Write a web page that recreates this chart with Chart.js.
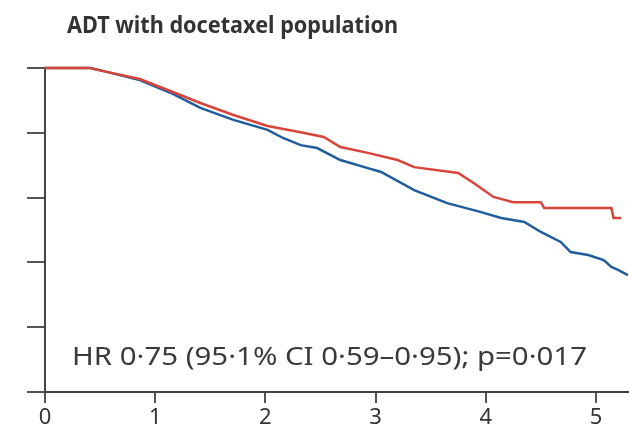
<!DOCTYPE html>
<html>
<head>
<meta charset="utf-8">
<script src="https://cdn.jsdelivr.net/npm/chart.js@4.4.1/dist/chart.umd.min.js"></script>
<style>
    html, body { margin: 0; padding: 0; background: #fff; }
    #caixa-grafico { width: 629px; height: 433px; }
</style>
</head>
<body>
<div id="caixa-grafico"><canvas id="sobrevida"></canvas></div>
<script>
// Dados (anos, proporção sem evento)
const tempoVermelho = [0, 0.41, 0.56, 0.86, 1.16, 1.41, 1.71, 2.02, 2.32, 2.53, 2.68, 2.93, 3.2, 3.35, 3.75, 3.89, 4.07, 4.25, 4.5, 4.53, 5.14, 5.16, 5.23];
const valoresVermelho = [1.0, 1.0, 0.988, 0.966, 0.926, 0.892, 0.855, 0.821, 0.802, 0.787, 0.756, 0.738, 0.716, 0.694, 0.676, 0.645, 0.602, 0.586, 0.586, 0.568, 0.568, 0.537, 0.537];

const tempoAzul = [0, 0.41, 0.56, 0.86, 1.16, 1.41, 1.71, 2.02, 2.16, 2.32, 2.47, 2.68, 2.93, 3.05, 3.35, 3.65, 3.95, 4.14, 4.35, 4.5, 4.68, 4.77, 4.93, 5.07, 5.14, 5.2, 5.29];
const valoresAzul = [1.0, 1.0, 0.988, 0.963, 0.92, 0.877, 0.84, 0.809, 0.784, 0.762, 0.753, 0.716, 0.691, 0.679, 0.623, 0.583, 0.556, 0.537, 0.525, 0.494, 0.463, 0.432, 0.423, 0.407, 0.386, 0.377, 0.361];

const ticksX = [0, 1, 2, 3, 4, 5];
const ticksY = [0, 0.2, 0.4, 0.6, 0.8, 1.0];

const titulo = 'ADT with docetaxel population';
const textoHR = 'HR 0·75 (95·1% CI 0·59–0·95); p=0·017';

// escreve o texto esticado/apertado até a largura pedida
function escreverAjustado(ctx, texto, x, y, largura, fonte, cor) {
    ctx.save();
    ctx.font = fonte;
    const w = ctx.measureText(texto).width;
    ctx.translate(x, y);
    ctx.scale(largura / w, 1);
    ctx.fillStyle = cor;
    ctx.textBaseline = 'alphabetic';
    ctx.fillText(texto, 0, 0);
    ctx.restore();
}

const textosExtras = {
    id: 'textosExtras',
    afterDraw(chart) {
        const ctx = chart.ctx;
        escreverAjustado(ctx, titulo, 67, 33, 331, '700 24px "Noto Sans"', '#333');
        escreverAjustado(ctx, textoHR, 72, 365, 515, '26px "Noto Sans"', '#3a3a3a');
    }
};

const pares = (xs, ys) => xs.map((x, i) => ({ x: x, y: ys[i] }));

const ctx = document.getElementById('sobrevida').getContext('2d');
const grafico = new Chart(ctx, {
    type: 'line',
    data: {
        datasets: [{
            label: 'ADT + docetaxel + abiraterone',
            data: pares(tempoVermelho, valoresVermelho),
            borderColor: '#d9443a',
            borderWidth: 2.5,
            pointRadius: 0,
            tension: 0,
            clip: false
        }, {
            label: 'ADT + docetaxel',
            data: pares(tempoAzul, valoresAzul),
            borderColor: '#1f5d9c',
            borderWidth: 2.5,
            pointRadius: 0,
            tension: 0,
            clip: false
        }]
    },
    options: {
        responsive: true,
        maintainAspectRatio: false,
        animation: false,
        layout: { padding: { top: 68, left: 0, right: 0, bottom: 0 } },
        plugins: {
            legend: { display: false },
            tooltip: { enabled: false }
        },
        scales: {
            x: {
                type: 'linear',
                min: 0,
                max: 5.3,
                afterBuildTicks: (s) => { s.ticks = ticksX.map(v => ({ value: v })); },
                afterFit: (s) => { s.height = 41; },
                grid: { drawOnChartArea: false, drawTicks: true, tickLength: 11, lineWidth: 2, color: '#555' },
                border: { display: true, color: '#444', width: 2 },
                ticks: {
                    padding: 2,
                    color: '#333',
                    font: { family: 'Noto Sans', size: 22 },
                    maxRotation: 0
                }
            },
            y: {
                min: 0,
                max: 1,
                afterBuildTicks: (s) => { s.ticks = ticksY.map(v => ({ value: v })); },
                afterFit: (s) => { s.width = 45; },
                grid: { drawOnChartArea: false, drawTicks: true, tickLength: 18, lineWidth: 2, color: '#555' },
                border: { display: true, color: '#444', width: 2 },
                ticks: { callback: () => '', padding: 0 }
            }
        }
    },
    plugins: [textosExtras]
});
</script>
</body>
</html>
